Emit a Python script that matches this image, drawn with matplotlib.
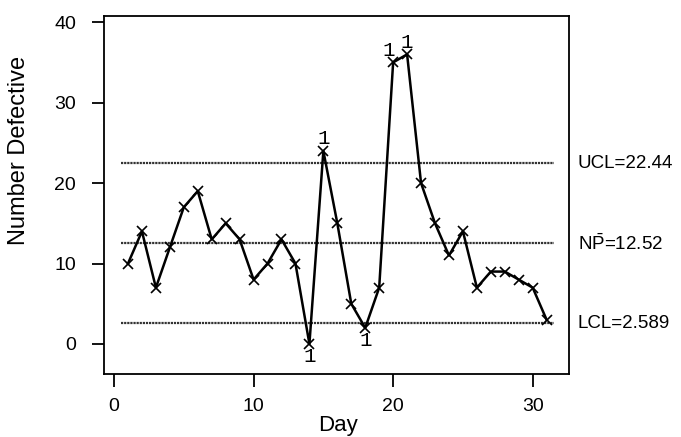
import numpy as np
import matplotlib.pyplot as plt

# NP chart data (number defective per day, n = 100)
days = np.arange(1, 32)
defects = [10, 14, 7, 12, 17, 19, 13, 15, 13, 8, 10, 13, 10, 0, 24,
           15, 5, 2, 7, 35, 36, 20, 15, 11, 14, 7, 9, 9, 8, 7, 3]
n = 100

# flagged points (test 1) and where the "1" goes
flag_days = [14, 15, 18, 20, 21]
flag_side = ["below", "above", "below", "above", "above"]

xticks = [0, 10, 20, 30]
yticks = [0, 10, 20, 30, 40]

np_bar = np.mean(defects)
p_bar = np_bar / n
sigma = np.sqrt(np_bar * (1 - p_bar))
ucl = np_bar + 3 * sigma
lcl = max(np_bar - 3 * sigma, 0)

plt.rcParams['font.family'] = ['Liberation Sans', 'DejaVu Sans']
plt.rcParams['mathtext.fontset'] = 'custom'
plt.rcParams['mathtext.rm'] = 'Liberation Sans'

fig = plt.figure(figsize=(6.81, 4.37), dpi=100)
ax = fig.add_axes([0.1527, 0.1442, 0.6828, 0.8198])

# control lines
for v in [ucl, np_bar, lcl]:
    ax.hlines(v, 0.5, 31.5, colors="#333333", linewidth=1.6, linestyles=(0, (1, 0.4)))

ax.plot(days, defects, color="black", linewidth=1.8, marker="x", markersize=7,
        markeredgewidth=1.2)

for d, side in zip(flag_days, flag_side):
    v = defects[d - 1]
    dx = -0.35 if d == 20 else 0
    if side == "above":
        ax.annotate("1", (d + dx, v), xytext=(0, 2), textcoords="offset points",
                    ha="center", va="bottom", fontsize=15, family="Liberation Mono")
    else:
        ax.annotate("1", (d, v), xytext=(0, -2), textcoords="offset points",
                    ha="center", va="top", fontsize=15, family="Liberation Mono")

# limit labels on the right
ax.text(1.019, ucl, "UCL=%.2f" % ucl, transform=ax.get_yaxis_transform(),
        va="center", ha="left", fontsize=13.5)
ax.text(1.019, np_bar, r"N$\bar{\mathrm{P}}$=%.2f" % np_bar, transform=ax.get_yaxis_transform(),
        va="center", ha="left", fontsize=13.5)
ax.text(1.019, lcl, "LCL=%.3f" % lcl, transform=ax.get_yaxis_transform(),
        va="center", ha="left", fontsize=13.5)

ax.set_xlim(-0.72, 32.6)
ax.set_ylim(-3.73, 40.8)
ax.set_xticks(xticks)
ax.set_yticks(yticks)
ax.tick_params(direction="out", length=9, width=1.3, pad=11)
ax.tick_params(axis="y", labelsize=14)
ax.tick_params(axis="x", labelsize=14, pad=8)
for s in ax.spines.values():
    s.set_linewidth(1.3)

ax.set_xlabel("Day", fontsize=16)
ax.set_ylabel("Number Defective", fontsize=17)
ax.xaxis.set_label_coords(0.503, -0.114)
ax.yaxis.set_label_coords(-0.159, 0.624)

fig.savefig("out.png", dpi=100)
